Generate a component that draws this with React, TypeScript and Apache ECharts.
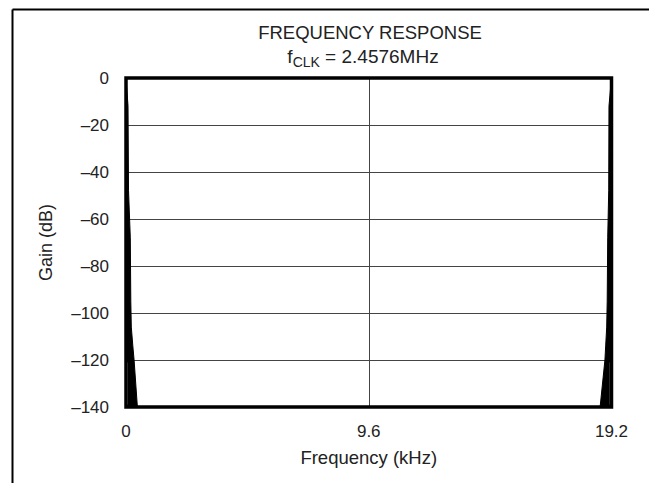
import React, { useEffect, useRef } from "react";
import * as echarts from "echarts";

// Frequency (kHz) / gain (dB) envelope of the filled response near 0 Hz
const leftFreq = [0, 0.08, 0.1, 0.17, 0.19, 0.21, 0.27, 0.32, 0.45];
const leftGain = [0, -12, -48, -68, -95, -106, -114, -120, -140];
// Envelope of the filled response near 19.2 kHz
const rightFreq = [19.2, 19.1, 19.09, 19.05, 19.03, 19.01, 18.97, 18.94, 18.75];
const rightGain = [0, -12, -48, -68, -95, -106, -114, -120, -140];
// Thin white gaps seen inside the filled regions
const gapLeftFreq = [0.05, 0.05];
const gapRightFreq = [19.15, 19.15];
const gapGain = [-121, -139];

const xTicks = [0, 9.6, 19.2];
const xTickLabels = ["0", "9.6", "19.2"];
const yTicks = [0, -20, -40, -60, -80, -100, -120, -140];
const yTickLabels = ["0", "–20", "–40", "–60", "–80", "–100", "–120", "–140"];

const titleText = "FREQUENCY RESPONSE";
const xName = "Frequency (kHz)";
const yName = "Gain (dB)";

const FONT = "'Liberation Sans', Arial, sans-serif";
const TXT = "#222";

export default function App() {
  const ref = useRef<HTMLDivElement>(null);
  useEffect(() => {
    if (!ref.current) return;
    const chart = echarts.init(ref.current, null, { renderer: "svg" });
    const leftData = leftFreq.map((f, i) => [f, leftGain[i]]);
    const rightData = rightFreq.map((f, i) => [f, rightGain[i]]);
    const gapL = gapLeftFreq.map((f, i) => [f, gapGain[i]]);
    const gapR = gapRightFreq.map((f, i) => [f, gapGain[i]]);
    chart.setOption({
      animation: false,
      backgroundColor: "#fff",
      textStyle: { fontFamily: FONT },
      title: [
        {
          text: titleText,
          left: 365,
          top: 18,
          textAlign: "center",
          textStyle: { fontFamily: FONT, fontSize: 18.5, fontWeight: "normal", color: TXT },
        },
        {
          text: "{a|f}{s|CLK}{a| = 2.4576MHz}",
          left: 358,
          top: 39,
          textAlign: "center",
          textStyle: {
            fontFamily: FONT,
            fontWeight: "normal",
            color: TXT,
            rich: {
              a: { fontFamily: FONT, fontSize: 19, color: TXT, lineHeight: 22, verticalAlign: "bottom" },
              s: { fontFamily: FONT, fontSize: 14, color: TXT, lineHeight: 14, verticalAlign: "bottom", padding: [0, 0, -3, 0] },
            },
          },
        },
      ],
      graphic: [
        { type: "line", shape: { x1: 12.5, y1: 9.5, x2: 649, y2: 9.5 }, style: { stroke: "#000", lineWidth: 2 } },
        { type: "line", shape: { x1: 12.5, y1: 9.5, x2: 12.5, y2: 483 }, style: { stroke: "#000", lineWidth: 2 } },
      ],
      grid: {
        left: 126,
        right: 37.5,
        top: 78,
        bottom: 76,
        show: true,
        borderColor: "#000",
        borderWidth: 3.5,
        z: 10,
      },
      xAxis: {
        type: "value",
        min: 0,
        max: 19.2,
        interval: 9.6,
        name: xName,
        nameLocation: "middle",
        nameGap: 41,
        nameTextStyle: { fontFamily: FONT, fontSize: 18.5, color: TXT },
        axisLine: { show: false },
        axisTick: { show: false },
        axisLabel: {
          margin: 16,
          fontFamily: FONT,
          fontSize: 17,
          color: TXT,
          formatter: (v: number) => {
            const i = xTicks.findIndex((t) => Math.abs(t - v) < 1e-6);
            return i >= 0 ? xTickLabels[i] : "";
          },
        },
        splitLine: { show: true, lineStyle: { color: "#444", width: 1 } },
      },
      yAxis: {
        type: "value",
        min: -140,
        max: 0,
        interval: 20,
        name: yName,
        nameLocation: "middle",
        nameGap: 71,
        nameTextStyle: { fontFamily: FONT, fontSize: 18, color: TXT },
        axisLine: { show: false },
        axisTick: { show: false },
        axisLabel: {
          margin: 17,
          fontFamily: FONT,
          fontSize: 17,
          color: TXT,
          formatter: (v: number) => {
            const i = yTicks.findIndex((t) => Math.abs(t - v) < 1e-6);
            return i >= 0 ? yTickLabels[i] : "";
          },
        },
        splitLine: { show: true, lineStyle: { color: "#444", width: 1 } },
      },
      series: [
        {
          type: "line",
          data: leftData,
          symbol: "none",
          lineStyle: { color: "#000", width: 1 },
          areaStyle: { color: "#000", opacity: 1, origin: "start" },
          z: 5,
        },
        {
          type: "line",
          data: rightData,
          symbol: "none",
          lineStyle: { color: "#000", width: 1 },
          areaStyle: { color: "#000", opacity: 1, origin: "start" },
          z: 5,
        },
        {
          type: "line",
          data: gapL,
          symbol: "none",
          lineStyle: { color: "#fff", width: 0.8 },
          z: 6,
        },
        {
          type: "line",
          data: gapR,
          symbol: "none",
          lineStyle: { color: "#fff", width: 0.8 },
          z: 6,
        },
      ],
    });
    return () => chart.dispose();
  }, []);
  return <div ref={ref} style={{ position: "fixed", left: 0, top: 0, width: 649, height: 483 }} />;
}
